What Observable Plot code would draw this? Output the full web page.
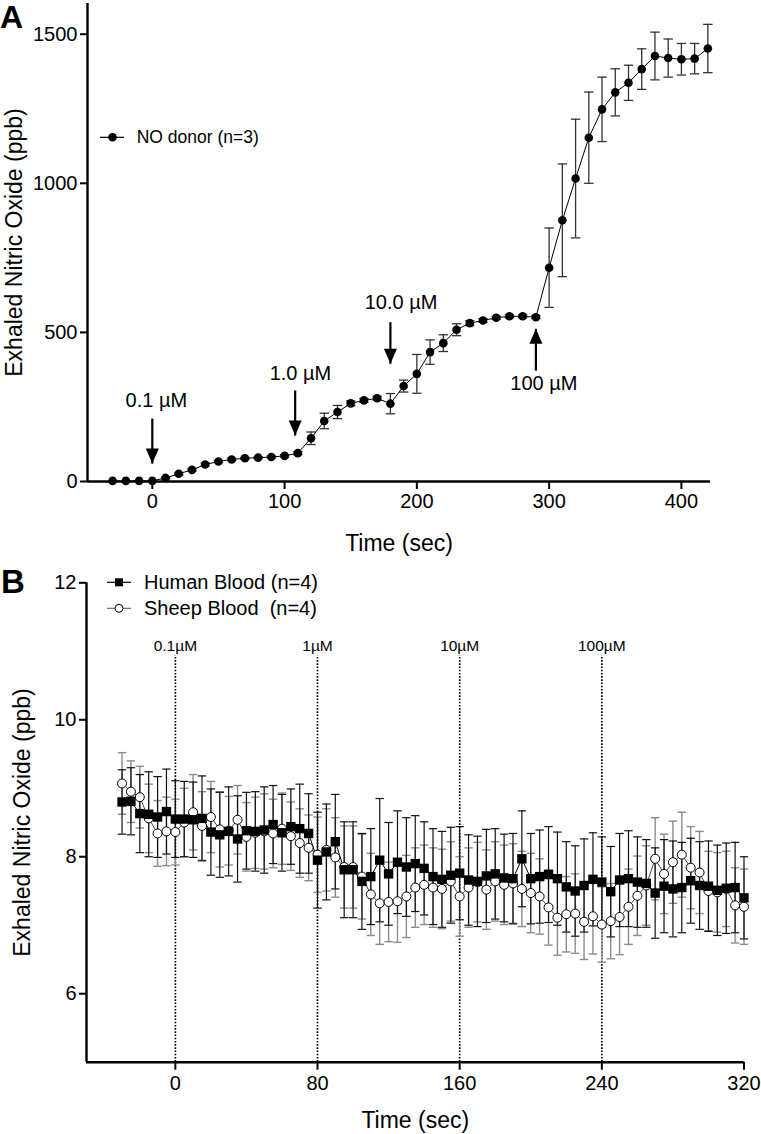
<!DOCTYPE html>
<html>
<head>
<meta charset="utf-8">
<script src="https://cdn.jsdelivr.net/npm/d3@7"></script>
<script src="https://cdn.jsdelivr.net/npm/@observablehq/plot@0.6"></script>
<style>
  body { margin: 0; background: white; font-family: "Liberation Sans", Arial, Helvetica, sans-serif; }
  #wrap { position: relative; width: 761px; height: 1134px; overflow: hidden; }
  #pa { position: absolute; left: 0; top: 0; }
  #pb { position: absolute; left: 0; top: 560px; }
  #ov { position: absolute; left: 0; top: 0; pointer-events: none; }
  #ov text { font-family: "Liberation Sans", Arial, Helvetica, sans-serif; fill: black; }
</style>
</head>
<body>
<div id="wrap">
  <div id="pa"></div>
  <div id="pb"></div>
  <svg id="ov" width="761" height="1134" xmlns="http://www.w3.org/2000/svg">
    <text x="0" y="28" font-size="32" font-weight="bold">A</text>
    <text x="1" y="593" font-size="33" font-weight="bold">B</text>
    <!-- legend A -->
    <line x1="100" y1="137.3" x2="124" y2="137.3" stroke="black" stroke-width="1.2"/>
    <circle cx="112.5" cy="137.3" r="4.3" fill="black"/>
    <text x="136.7" y="137.3" font-size="17.5" dominant-baseline="central">NO donor (n=3)</text>
    <!-- legend B -->
    <line x1="107" y1="582.3" x2="131" y2="582.3" stroke="black" stroke-width="1.2"/>
    <rect x="115" y="578.3" width="8" height="8" fill="black"/>
    <text x="144" y="582.3" font-size="20" dominant-baseline="central">Human Blood (n=4)</text>
    <line x1="107" y1="608.3" x2="131" y2="608.3" stroke="#555" stroke-width="1"/>
    <circle cx="119" cy="608.3" r="4" fill="white" stroke="black" stroke-width="1"/>
    <text x="144" y="608.3" font-size="20" dominant-baseline="central" style="white-space:pre">Sheep Blood  (n=4)</text>
  </svg>
</div>
<script>
// ---------------- Panel A data ----------------
const timeA = [-30, -20, -10, 0, 10, 20, 30, 40, 50, 60, 70, 80, 90, 100, 110, 120, 130, 140, 150, 160,
               170, 180, 190, 200, 210, 220, 230, 240, 250, 260, 270, 280, 290, 300, 310, 320, 330, 340,
               350, 360, 370, 380, 390, 400, 410, 420];
const noDonor = [2, 2, 2, 2, 12, 26, 39, 57, 67, 74, 78, 80, 82, 86, 95, 145, 203, 233, 262, 272,
                 279, 261, 320, 361, 434, 464, 509, 531, 540, 549, 554, 554, 551, 717, 876, 1016, 1153, 1248,
                 1305, 1337, 1383, 1427, 1420, 1416, 1418, 1452];
const noDonorErr = [0, 0, 0, 0, 3, 4, 4, 5, 4, 4, 3, 3, 3, 4, 5, 21, 26, 22, 8, 6,
                    6, 34, 20, 65, 41, 28, 20, 8, 6, 5, 5, 5, 5, 133, 189, 199, 153, 108,
                    79, 59, 68, 80, 64, 53, 51, 81];
const ticksAx = [0, 100, 200, 300, 400];
const ticksAy = [0, 500, 1000, 1500];
// additions: label, time, tail value, tip value, label time, label value
const doseLabelsA = ["0.1 µM", "1.0 µM", "10.0 µM", "100 µM"];
const doseTimeA = [0, 108, 180, 290];
const doseTailA = [211, 305, 534, 372];
const doseTipA = [60, 154, 395, 512];
const doseLabelTimeA = [3, 112, 188, 296];
const doseLabelValA = [272, 362, 600, 327];

// ---------------- Panel B data ----------------
const timeB = [-30, -25, -20, -15, -10, -5, 0, 5, 10, 15, 20, 25, 30, 35, 40, 45, 50, 55, 60, 65,
               70, 75, 80, 85, 90, 95, 100, 105, 110, 115, 120, 125, 130, 135, 140, 145, 150, 155, 160, 165,
               170, 175, 180, 185, 190, 195, 200, 205, 210, 215, 220, 225, 230, 235, 240, 245, 250, 255, 260, 265,
               270, 275, 280, 285, 290, 295, 300, 305, 310, 315, 320];
const human = [8.80, 8.81, 8.63, 8.62, 8.58, 8.66, 8.55, 8.55, 8.54, 8.56, 8.36, 8.32, 8.37, 8.26, 8.38, 8.37, 8.39, 8.47, 8.35, 8.44,
               8.41, 8.34, 7.95, 8.07, 8.22, 7.81, 7.81, 7.64, 7.71, 7.95, 7.75, 7.92, 7.85, 7.90, 7.83, 7.71, 7.67, 7.73, 7.76, 7.66,
               7.64, 7.72, 7.75, 7.69, 7.68, 7.97, 7.68, 7.71, 7.74, 7.68, 7.56, 7.50, 7.58, 7.67, 7.63, 7.49, 7.66, 7.68, 7.63, 7.61,
               7.47, 7.57, 7.53, 7.55, 7.65, 7.58, 7.57, 7.51, 7.54, 7.55, 7.40];
const humanErr = [0.47, 0.49, 0.57, 0.62, 0.59, 0.62, 0.56, 0.55, 0.55, 0.62, 0.63, 0.62, 0.65, 0.63, 0.56, 0.58, 0.63, 0.57, 0.56, 0.55,
                  0.65, 0.58, 0.70, 0.70, 0.69, 0.70, 0.70, 0.70, 0.70, 0.90, 0.75, 0.75, 0.72, 0.70, 0.68, 0.70, 0.70, 0.70, 0.68, 0.66,
                  0.66, 0.68, 0.66, 0.64, 0.66, 0.70, 0.66, 0.68, 0.70, 0.68, 0.66, 0.66, 0.68, 0.68, 0.66, 0.66, 0.68, 0.70, 0.66, 0.64,
                  0.66, 0.68, 0.70, 0.66, 0.62, 0.64, 0.66, 0.66, 0.66, 0.66, 0.60];
const sheep = [9.07, 8.95, 8.87, 8.56, 8.34, 8.37, 8.36, 8.50, 8.65, 8.45, 8.58, 8.40, 8.38, 8.54, 8.29, 8.35, 8.37, 8.34, 8.41, 8.30,
               8.20, 8.13, 8.03, 8.10, 7.99, 7.85, 7.85, 7.71, 7.45, 7.32, 7.34, 7.35, 7.42, 7.55, 7.59, 7.55, 7.53, 7.64, 7.42, 7.55,
               7.63, 7.52, 7.64, 7.59, 7.61, 7.53, 7.47, 7.42, 7.26, 7.11, 7.16, 7.17, 7.05, 7.13, 7.01, 7.06, 7.12, 7.27, 7.43, 7.58,
               7.97, 7.75, 7.92, 8.03, 7.84, 7.77, 7.50, 7.48, 7.53, 7.29, 7.27];
const sheepErr = [0.45, 0.45, 0.45, 0.50, 0.48, 0.50, 0.48, 0.50, 0.55, 0.50, 0.52, 0.55, 0.50, 0.50, 0.50, 0.52, 0.55, 0.50, 0.52, 0.50,
                  0.50, 0.48, 0.55, 0.60, 0.58, 0.60, 0.60, 0.62, 0.60, 0.60, 0.58, 0.60, 0.60, 0.58, 0.58, 0.58, 0.58, 0.58, 0.58, 0.58,
                  0.58, 0.58, 0.58, 0.58, 0.58, 0.55, 0.58, 0.55, 0.55, 0.55, 0.55, 0.58, 0.55, 0.55, 0.55, 0.55, 0.55, 0.55, 0.58, 0.58,
                  0.60, 0.58, 0.60, 0.62, 0.60, 0.60, 0.58, 0.58, 0.55, 0.55, 0.55];
const ticksBx = [0, 80, 160, 240, 320];
const ticksBy = [6, 8, 10, 12];
const doseTimeB = [0, 80, 160, 240];
const doseLabelsB = ["0.1µM", "1µM", "10µM", "100µM"];

// ---------------- helpers ----------------
const FONT = '"Liberation Sans", Arial, Helvetica, sans-serif';
const cap = {draw(ctx, size) { const w = Math.sqrt(size / Math.PI); ctx.moveTo(-w, 0); ctx.lineTo(w, 0); }};
const headDown = {draw(ctx) { ctx.moveTo(0, 0); ctx.lineTo(-6.5, -15); ctx.lineTo(6.5, -15); ctx.closePath(); }};
const headUp = {draw(ctx) { ctx.moveTo(0, 0); ctx.lineTo(-6.5, 15); ctx.lineTo(6.5, 15); ctx.closePath(); }};

// ---------------- Panel A ----------------
const dataA = timeA.map((t, i) => ({t, v: noDonor[i], e: noDonorErr[i]}));
const barsA = dataA.filter(d => d.e > 0);
const dosesA = doseLabelsA.map((label, i) => ({label, t: doseTimeA[i], tail: doseTailA[i], tip: doseTipA[i],
  lt: doseLabelTimeA[i], lv: doseLabelValA[i]}));

const plotA = Plot.plot({
  width: 761, height: 560,
  marginTop: 3, marginBottom: 79, marginLeft: 87, marginRight: 51,
  style: {fontFamily: FONT, color: "black", background: "white"},
  x: {domain: [-49, 422]},
  y: {domain: [0, 1603]},
  marks: [
    Plot.ruleX(barsA, {x: "t", y1: d => d.v - d.e, y2: d => d.v + d.e, stroke: "#333", strokeWidth: 1.3}),
    Plot.dot(barsA, {x: "t", y: d => d.v + d.e, symbol: cap, r: 4.7, stroke: "#333", strokeWidth: 1.3, fill: "none"}),
    Plot.dot(barsA, {x: "t", y: d => d.v - d.e, symbol: cap, r: 4.7, stroke: "#333", strokeWidth: 1.3, fill: "none"}),
    Plot.line(dataA, {x: "t", y: "v", stroke: "black", strokeWidth: 1}),
    Plot.dot(dataA, {x: "t", y: "v", r: 4.3, fill: "black", stroke: "none"}),
    Plot.link(dosesA, {x1: "t", x2: "t", y1: "tail", y2: "tip", stroke: "black", strokeWidth: 2.2}),
    Plot.dot(dosesA.filter(d => d.tip < d.tail), {x: "t", y: "tip", symbol: headDown, r: 5, fill: "black", stroke: "none"}),
    Plot.dot(dosesA.filter(d => d.tip > d.tail), {x: "t", y: "tip", symbol: headUp, r: 5, fill: "black", stroke: "none"}),
    Plot.text(dosesA, {x: "lt", y: "lv", text: "label", fontSize: 20, fill: "black"}),
    Plot.ruleY([0], {stroke: "black", strokeWidth: 2.4}),
    Plot.ruleX([-49], {stroke: "black", strokeWidth: 2.4}),
    Plot.axisX({ticks: ticksAx, tickFormat: d => String(d), tickSize: 8, tickPadding: 4, fontSize: 20, strokeWidth: 2, label: null}),
    Plot.axisY({ticks: ticksAy, tickFormat: d => String(d), tickSize: 7, tickPadding: 3, fontSize: 20, strokeWidth: 2, label: null}),
    Plot.text(["Time (sec)"], {frameAnchor: "bottom", dy: 62, fontSize: 23, fill: "black", textAnchor: "middle", lineAnchor: "middle"}),
    Plot.text(["Exhaled Nitric Oxide (ppb)"], {frameAnchor: "left", dx: -73, rotate: -90, fontSize: 23, fill: "black", textAnchor: "middle", lineAnchor: "middle"})
  ]
});
document.getElementById("pa").appendChild(plotA);

// ---------------- Panel B ----------------
const dataH = timeB.map((t, i) => ({t, v: human[i], e: humanErr[i]}));
const dataS = timeB.map((t, i) => ({t, v: sheep[i], e: sheepErr[i]}));
const dosesB = doseTimeB.map((t, i) => ({t, label: doseLabelsB[i]}));

const plotB = Plot.plot({
  width: 761, height: 574,
  marginTop: 22.3, marginBottom: 72.3, marginLeft: 86, marginRight: 17.5,
  style: {fontFamily: FONT, color: "black", background: "white"},
  x: {domain: [-50, 320]},
  y: {domain: [5, 12]},
  marks: [
    Plot.ruleX(dosesB, {x: "t", y1: 5, y2: 10.94, stroke: "black", strokeWidth: 1.7, strokeDasharray: "1.6,1.6"}),
    Plot.text(dosesB, {x: "t", y: 11.07, text: "label", fontSize: 15.5, fill: "black"}),
    Plot.ruleX(dataS, {x: "t", y1: d => d.v - d.e, y2: d => d.v + d.e, stroke: "#8c8c8c", strokeWidth: 1.4}),
    Plot.dot(dataS, {x: "t", y: d => d.v + d.e, symbol: cap, r: 4.2, stroke: "#8c8c8c", strokeWidth: 1.4, fill: "none"}),
    Plot.dot(dataS, {x: "t", y: d => d.v - d.e, symbol: cap, r: 4.2, stroke: "#8c8c8c", strokeWidth: 1.4, fill: "none"}),
    Plot.ruleX(dataH, {x: "t", y1: d => d.v - d.e, y2: d => d.v + d.e, stroke: "#111", strokeWidth: 1.2}),
    Plot.dot(dataH, {x: "t", y: d => d.v + d.e, symbol: cap, r: 4.2, stroke: "#111", strokeWidth: 1.2, fill: "none"}),
    Plot.dot(dataH, {x: "t", y: d => d.v - d.e, symbol: cap, r: 4.2, stroke: "#111", strokeWidth: 1.2, fill: "none"}),
    Plot.line(dataS, {x: "t", y: "v", stroke: "#333", strokeWidth: 0.9}),
    Plot.line(dataH, {x: "t", y: "v", stroke: "black", strokeWidth: 1}),
    Plot.dot(dataS, {x: "t", y: "v", r: 4.5, fill: "white", stroke: "black", strokeWidth: 1}),
    Plot.dot(dataH, {x: "t", y: "v", symbol: "square", r: 5.3, fill: "black", stroke: "none"}),
    Plot.ruleY([5], {stroke: "black", strokeWidth: 2.4}),
    Plot.ruleX([-50], {stroke: "black", strokeWidth: 2.4}),
    Plot.axisX({ticks: ticksBx, tickFormat: d => String(d), tickSize: 8, tickPadding: 6, fontSize: 20, strokeWidth: 2, label: null}),
    Plot.axisY({ticks: ticksBy, tickFormat: d => String(d), tickSize: 7, tickPadding: 3, fontSize: 20, strokeWidth: 2, label: null}),
    Plot.text(["Time (sec)"], {frameAnchor: "bottom", dy: 58, fontSize: 23, fill: "black", textAnchor: "middle", lineAnchor: "middle"}),
    Plot.text(["Exhaled Nitric Oxide (ppb)"], {frameAnchor: "left", dx: -64, rotate: -90, fontSize: 23, fill: "black", textAnchor: "middle", lineAnchor: "middle"})
  ]
});
document.getElementById("pb").appendChild(plotB);
</script>
</body>
</html>
